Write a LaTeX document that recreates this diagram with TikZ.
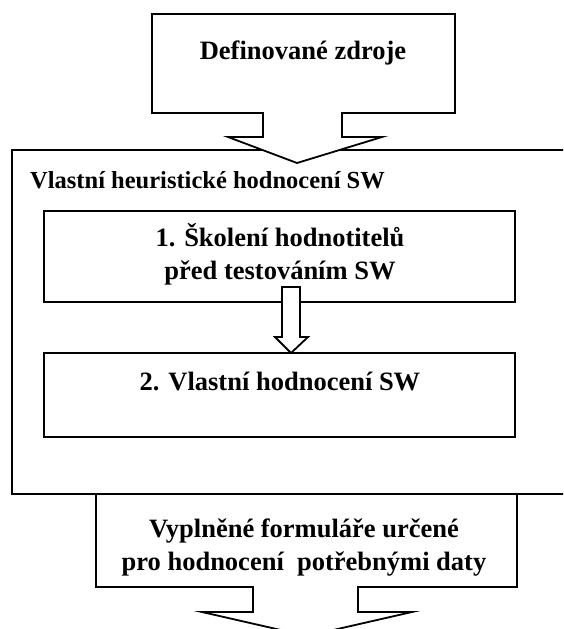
\documentclass[tikz,border=0pt]{standalone}
\usepackage{fontspec}
\setmainfont{Liberation Serif}
\begin{document}
\begin{tikzpicture}[x=1pt,y=-1pt,
  outline/.style={draw=black,line width=1.8pt,line join=miter},
  blockarrow/.style={outline,fill=white},
  label/.style={font=\fontsize{26.5}{33}\selectfont\bfseries,align=center,inner sep=0pt},
  heading/.style={label,font=\fontsize{24.5}{30}\selectfont\bfseries,anchor=west}]
\useasboundingbox (0,0) rectangle (563,629);
\clip (0,0) rectangle (563,629);

% outer frame of the evaluation phase (runs past the right edge)
\draw[outline] (12,150) rectangle (580,494);

% inner step boxes
\draw[outline] (44,211) rectangle (515,302);
\draw[outline] (44,353) rectangle (515,437);

% top callout with downward arrow
\draw[blockarrow] (152,14) -- (455,14) -- (455,113) -- (342,113) -- (342,137)
  -- (382,137) -- (297,163) -- (228,137) -- (263,137) -- (263,113)
  -- (152,113) -- cycle;

% bottom callout with downward arrow
\draw[blockarrow] (96,494) -- (517,494) -- (517,587) -- (358,587) -- (358,612)
  -- (412,612) -- (307,636) -- (202,612) -- (253,612) -- (253,587)
  -- (96,587) -- cycle;

% labels
\node[label] (zdroje) at (303,53) {Definované zdroje};
\node[heading] (faze) at (30,180) {Vlastní heuristické hodnocení SW};
\node[label] (skoleni) at (280,254) {1. Školení hodnotitelů\\před testováním SW};
\node[label] (hodnoceni) at (280,381) {2. Vlastní hodnocení SW};
\node[label] (formulare) at (304,548) {Vyplněné formuláře určené\\pro hodnocení \ potřebnými daty};

% small block arrow between the two steps
\coordinate (a1) at (291,287);
\coordinate (a2) at (291,353);
\draw[blockarrow] ([xshift=-9]a1) -- ([xshift=9]a1) -- ([xshift=9,yshift=16]a2)
  -- ([xshift=17,yshift=16]a2) -- (a2) -- ([xshift=-16,yshift=16]a2)
  -- ([xshift=-9,yshift=16]a2) -- cycle;
\end{tikzpicture}
\end{document}
